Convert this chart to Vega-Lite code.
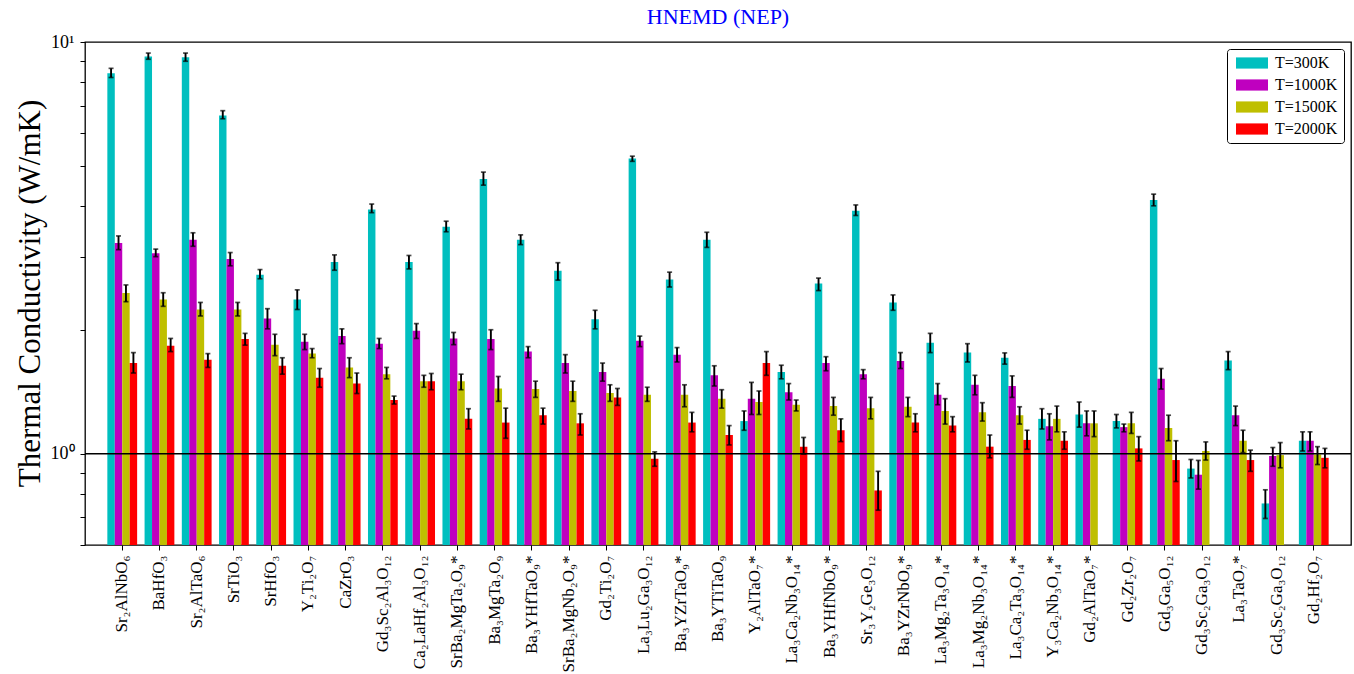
{
  "$schema": "https://vega.github.io/schema/vega-lite/v6.json",
  "width": 1266,
  "height": 503,
  "autosize": {"type": "none"},
  "padding": {"left": 85, "top": 42, "right": 3, "bottom": 129},
  "title": {"text": "HNEMD (NEP)", "color": "#0000FF", "font": "Liberation Serif", "fontSize": 22, "fontWeight": "normal", "anchor": "middle", "offset": 4},
  "config": {
    "view": {"stroke": "black", "strokeWidth": 1.3},
    "axis": {"labelColor": "black", "tickColor": "black", "titleColor": "black", "domain": false, "grid": false}
  },
  "data": {"values": [
    {"m":"Sr₂AlNbO₆","T":"T=300K","v":8.40,"lo":8.20,"hi":8.63},
    {"m":"Sr₂AlNbO₆","T":"T=1000K","v":3.25,"lo":3.13,"hi":3.38},
    {"m":"Sr₂AlNbO₆","T":"T=1500K","v":2.455,"lo":2.34,"hi":2.57},
    {"m":"Sr₂AlNbO₆","T":"T=2000K","v":1.66,"lo":1.57,"hi":1.76},
    {"m":"BaHfO₃","T":"T=300K","v":9.22,"lo":9.08,"hi":9.40},
    {"m":"BaHfO₃","T":"T=1000K","v":3.07,"lo":3.01,"hi":3.14},
    {"m":"BaHfO₃","T":"T=1500K","v":2.37,"lo":2.28,"hi":2.46},
    {"m":"BaHfO₃","T":"T=2000K","v":1.83,"lo":1.77,"hi":1.905},
    {"m":"Sr₂AlTaO₆","T":"T=300K","v":9.18,"lo":8.98,"hi":9.40},
    {"m":"Sr₂AlTaO₆","T":"T=1000K","v":3.31,"lo":3.19,"hi":3.44},
    {"m":"Sr₂AlTaO₆","T":"T=1500K","v":2.24,"lo":2.16,"hi":2.33},
    {"m":"Sr₂AlTaO₆","T":"T=2000K","v":1.69,"lo":1.62,"hi":1.75},
    {"m":"SrTiO₃","T":"T=300K","v":6.63,"lo":6.51,"hi":6.81},
    {"m":"SrTiO₃","T":"T=1000K","v":2.97,"lo":2.86,"hi":3.08},
    {"m":"SrTiO₃","T":"T=1500K","v":2.24,"lo":2.16,"hi":2.33},
    {"m":"SrTiO₃","T":"T=2000K","v":1.90,"lo":1.835,"hi":1.96},
    {"m":"SrHfO₃","T":"T=300K","v":2.72,"lo":2.66,"hi":2.80},
    {"m":"SrHfO₃","T":"T=1000K","v":2.13,"lo":2.01,"hi":2.25},
    {"m":"SrHfO₃","T":"T=1500K","v":1.84,"lo":1.73,"hi":1.95},
    {"m":"SrHfO₃","T":"T=2000K","v":1.635,"lo":1.56,"hi":1.71},
    {"m":"Y₂Ti₂O₇","T":"T=300K","v":2.37,"lo":2.24,"hi":2.50},
    {"m":"Y₂Ti₂O₇","T":"T=1000K","v":1.87,"lo":1.79,"hi":1.95},
    {"m":"Y₂Ti₂O₇","T":"T=1500K","v":1.75,"lo":1.71,"hi":1.80},
    {"m":"Y₂Ti₂O₇","T":"T=2000K","v":1.53,"lo":1.45,"hi":1.61},
    {"m":"CaZrO₃","T":"T=300K","v":2.92,"lo":2.79,"hi":3.04},
    {"m":"CaZrO₃","T":"T=1000K","v":1.93,"lo":1.85,"hi":2.01},
    {"m":"CaZrO₃","T":"T=1500K","v":1.62,"lo":1.53,"hi":1.71},
    {"m":"CaZrO₃","T":"T=2000K","v":1.48,"lo":1.40,"hi":1.57},
    {"m":"Gd₃Sc₂Al₃O₁₂","T":"T=300K","v":3.92,"lo":3.85,"hi":4.04},
    {"m":"Gd₃Sc₂Al₃O₁₂","T":"T=1000K","v":1.85,"lo":1.80,"hi":1.905},
    {"m":"Gd₃Sc₂Al₃O₁₂","T":"T=1500K","v":1.56,"lo":1.52,"hi":1.62},
    {"m":"Gd₃Sc₂Al₃O₁₂","T":"T=2000K","v":1.35,"lo":1.32,"hi":1.38},
    {"m":"Ca₂LaHf₂Al₃O₁₂","T":"T=300K","v":2.92,"lo":2.81,"hi":3.03},
    {"m":"Ca₂LaHf₂Al₃O₁₂","T":"T=1000K","v":1.99,"lo":1.905,"hi":2.07},
    {"m":"Ca₂LaHf₂Al₃O₁₂","T":"T=1500K","v":1.50,"lo":1.45,"hi":1.55},
    {"m":"Ca₂LaHf₂Al₃O₁₂","T":"T=2000K","v":1.50,"lo":1.43,"hi":1.566},
    {"m":"SrBa₂MgTa₂O₉*","T":"T=300K","v":3.56,"lo":3.46,"hi":3.67},
    {"m":"SrBa₂MgTa₂O₉*","T":"T=1000K","v":1.905,"lo":1.84,"hi":1.97},
    {"m":"SrBa₂MgTa₂O₉*","T":"T=1500K","v":1.50,"lo":1.43,"hi":1.56},
    {"m":"SrBa₂MgTa₂O₉*","T":"T=2000K","v":1.215,"lo":1.148,"hi":1.286},
    {"m":"Ba₃MgTa₂O₉","T":"T=300K","v":4.65,"lo":4.49,"hi":4.83},
    {"m":"Ba₃MgTa₂O₉","T":"T=1000K","v":1.90,"lo":1.79,"hi":2.00},
    {"m":"Ba₃MgTa₂O₉","T":"T=1500K","v":1.44,"lo":1.34,"hi":1.54},
    {"m":"Ba₃MgTa₂O₉","T":"T=2000K","v":1.19,"lo":1.09,"hi":1.29},
    {"m":"Ba₃YHfTaO₉*","T":"T=300K","v":3.31,"lo":3.22,"hi":3.40},
    {"m":"Ba₃YHfTaO₉*","T":"T=1000K","v":1.77,"lo":1.71,"hi":1.82},
    {"m":"Ba₃YHfTaO₉*","T":"T=1500K","v":1.435,"lo":1.37,"hi":1.50},
    {"m":"Ba₃YHfTaO₉*","T":"T=2000K","v":1.24,"lo":1.18,"hi":1.29},
    {"m":"SrBa₂MgNb₂O₉*","T":"T=300K","v":2.78,"lo":2.64,"hi":2.91},
    {"m":"SrBa₂MgNb₂O₉*","T":"T=1000K","v":1.66,"lo":1.57,"hi":1.74},
    {"m":"SrBa₂MgNb₂O₉*","T":"T=1500K","v":1.42,"lo":1.34,"hi":1.50},
    {"m":"SrBa₂MgNb₂O₉*","T":"T=2000K","v":1.185,"lo":1.11,"hi":1.25},
    {"m":"Gd₂Ti₂O₇","T":"T=300K","v":2.12,"lo":2.01,"hi":2.23},
    {"m":"Gd₂Ti₂O₇","T":"T=1000K","v":1.58,"lo":1.50,"hi":1.66},
    {"m":"Gd₂Ti₂O₇","T":"T=1500K","v":1.405,"lo":1.34,"hi":1.47},
    {"m":"Gd₂Ti₂O₇","T":"T=2000K","v":1.37,"lo":1.31,"hi":1.44},
    {"m":"La₃Lu₂Ga₃O₁₂","T":"T=300K","v":5.21,"lo":5.13,"hi":5.28},
    {"m":"La₃Lu₂Ga₃O₁₂","T":"T=1000K","v":1.88,"lo":1.82,"hi":1.93},
    {"m":"La₃Lu₂Ga₃O₁₂","T":"T=1500K","v":1.39,"lo":1.34,"hi":1.45},
    {"m":"La₃Lu₂Ga₃O₁₂","T":"T=2000K","v":0.972,"lo":0.932,"hi":1.01},
    {"m":"Ba₃YZrTaO₉*","T":"T=300K","v":2.65,"lo":2.54,"hi":2.76},
    {"m":"Ba₃YZrTaO₉*","T":"T=1000K","v":1.74,"lo":1.67,"hi":1.81},
    {"m":"Ba₃YZrTaO₉*","T":"T=1500K","v":1.39,"lo":1.30,"hi":1.47},
    {"m":"Ba₃YZrTaO₉*","T":"T=2000K","v":1.19,"lo":1.13,"hi":1.26},
    {"m":"Ba₃YTiTaO₉","T":"T=300K","v":3.31,"lo":3.17,"hi":3.45},
    {"m":"Ba₃YTiTaO₉","T":"T=1000K","v":1.55,"lo":1.46,"hi":1.635},
    {"m":"Ba₃YTiTaO₉","T":"T=1500K","v":1.36,"lo":1.29,"hi":1.43},
    {"m":"Ba₃YTiTaO₉","T":"T=2000K","v":1.11,"lo":1.05,"hi":1.17},
    {"m":"Y₂AlTaO₇*","T":"T=300K","v":1.20,"lo":1.14,"hi":1.27},
    {"m":"Y₂AlTaO₇*","T":"T=1000K","v":1.36,"lo":1.245,"hi":1.49},
    {"m":"Y₂AlTaO₇*","T":"T=1500K","v":1.335,"lo":1.245,"hi":1.42},
    {"m":"Y₂AlTaO₇*","T":"T=2000K","v":1.66,"lo":1.55,"hi":1.77},
    {"m":"La₃Ca₂Nb₃O₁₄*","T":"T=300K","v":1.58,"lo":1.52,"hi":1.64},
    {"m":"La₃Ca₂Nb₃O₁₄*","T":"T=1000K","v":1.41,"lo":1.35,"hi":1.48},
    {"m":"La₃Ca₂Nb₃O₁₄*","T":"T=1500K","v":1.315,"lo":1.27,"hi":1.35},
    {"m":"La₃Ca₂Nb₃O₁₄*","T":"T=2000K","v":1.04,"lo":0.998,"hi":1.095},
    {"m":"Ba₃YHfNbO₉*","T":"T=300K","v":2.59,"lo":2.49,"hi":2.67},
    {"m":"Ba₃YHfNbO₉*","T":"T=1000K","v":1.66,"lo":1.59,"hi":1.72},
    {"m":"Ba₃YHfNbO₉*","T":"T=1500K","v":1.305,"lo":1.24,"hi":1.37},
    {"m":"Ba₃YHfNbO₉*","T":"T=2000K","v":1.14,"lo":1.07,"hi":1.215},
    {"m":"Sr₃Y₂Ge₃O₁₂","T":"T=300K","v":3.89,"lo":3.79,"hi":4.02},
    {"m":"Sr₃Y₂Ge₃O₁₂","T":"T=1000K","v":1.56,"lo":1.52,"hi":1.60},
    {"m":"Sr₃Y₂Ge₃O₁₂","T":"T=1500K","v":1.29,"lo":1.215,"hi":1.37},
    {"m":"Sr₃Y₂Ge₃O₁₂","T":"T=2000K","v":0.814,"lo":0.729,"hi":0.906},
    {"m":"Ba₃YZrNbO₉*","T":"T=300K","v":2.33,"lo":2.23,"hi":2.43},
    {"m":"Ba₃YZrNbO₉*","T":"T=1000K","v":1.68,"lo":1.61,"hi":1.76},
    {"m":"Ba₃YZrNbO₉*","T":"T=1500K","v":1.30,"lo":1.23,"hi":1.37},
    {"m":"Ba₃YZrNbO₉*","T":"T=2000K","v":1.19,"lo":1.13,"hi":1.25},
    {"m":"La₃Mg₂Ta₃O₁₄*","T":"T=300K","v":1.86,"lo":1.76,"hi":1.96},
    {"m":"La₃Mg₂Ta₃O₁₄*","T":"T=1000K","v":1.39,"lo":1.315,"hi":1.48},
    {"m":"La₃Mg₂Ta₃O₁₄*","T":"T=1500K","v":1.27,"lo":1.18,"hi":1.36},
    {"m":"La₃Mg₂Ta₃O₁₄*","T":"T=2000K","v":1.17,"lo":1.13,"hi":1.23},
    {"m":"La₃Mg₂Nb₃O₁₄*","T":"T=300K","v":1.76,"lo":1.67,"hi":1.85},
    {"m":"La₃Mg₂Nb₃O₁₄*","T":"T=1000K","v":1.47,"lo":1.39,"hi":1.55},
    {"m":"La₃Mg₂Nb₃O₁₄*","T":"T=1500K","v":1.26,"lo":1.20,"hi":1.33},
    {"m":"La₃Mg₂Nb₃O₁₄*","T":"T=2000K","v":1.04,"lo":0.977,"hi":1.11},
    {"m":"La₃Ca₂Ta₃O₁₄*","T":"T=300K","v":1.71,"lo":1.65,"hi":1.757},
    {"m":"La₃Ca₂Ta₃O₁₄*","T":"T=1000K","v":1.46,"lo":1.37,"hi":1.545},
    {"m":"La₃Ca₂Ta₃O₁₄*","T":"T=1500K","v":1.24,"lo":1.18,"hi":1.30},
    {"m":"La₃Ca₂Ta₃O₁₄*","T":"T=2000K","v":1.08,"lo":1.025,"hi":1.14},
    {"m":"Y₃Ca₂Nb₃O₁₄*","T":"T=300K","v":1.215,"lo":1.148,"hi":1.286},
    {"m":"Y₃Ca₂Nb₃O₁₄*","T":"T=1000K","v":1.165,"lo":1.08,"hi":1.25},
    {"m":"Y₃Ca₂Nb₃O₁₄*","T":"T=1500K","v":1.215,"lo":1.13,"hi":1.305},
    {"m":"Y₃Ca₂Nb₃O₁₄*","T":"T=2000K","v":1.075,"lo":1.025,"hi":1.13},
    {"m":"Gd₂AlTaO₇*","T":"T=300K","v":1.245,"lo":1.16,"hi":1.335},
    {"m":"Gd₂AlTaO₇*","T":"T=1000K","v":1.185,"lo":1.105,"hi":1.27},
    {"m":"Gd₂AlTaO₇*","T":"T=1500K","v":1.185,"lo":1.10,"hi":1.27},
    {"m":"Gd₂Zr₂O₇","T":"T=300K","v":1.20,"lo":1.155,"hi":1.245},
    {"m":"Gd₂Zr₂O₇","T":"T=1000K","v":1.16,"lo":1.13,"hi":1.18},
    {"m":"Gd₂Zr₂O₇","T":"T=1500K","v":1.185,"lo":1.12,"hi":1.26},
    {"m":"Gd₂Zr₂O₇","T":"T=2000K","v":1.03,"lo":0.96,"hi":1.10},
    {"m":"Gd₃Ga₅O₁₂","T":"T=300K","v":4.13,"lo":4.00,"hi":4.27},
    {"m":"Gd₃Ga₅O₁₂","T":"T=1000K","v":1.52,"lo":1.435,"hi":1.61},
    {"m":"Gd₃Ga₅O₁₂","T":"T=1500K","v":1.155,"lo":1.075,"hi":1.24},
    {"m":"Gd₃Ga₅O₁₂","T":"T=2000K","v":0.965,"lo":0.856,"hi":1.075},
    {"m":"Gd₃Sc₂Ga₃O₁₂","T":"T=300K","v":0.92,"lo":0.873,"hi":0.968},
    {"m":"Gd₃Sc₂Ga₃O₁₂","T":"T=1000K","v":0.889,"lo":0.82,"hi":0.963},
    {"m":"Gd₃Sc₂Ga₃O₁₂","T":"T=1500K","v":1.015,"lo":0.965,"hi":1.068},
    {"m":"La₃TaO₇*","T":"T=300K","v":1.685,"lo":1.60,"hi":1.77},
    {"m":"La₃TaO₇*","T":"T=1000K","v":1.24,"lo":1.17,"hi":1.305},
    {"m":"La₃TaO₇*","T":"T=1500K","v":1.075,"lo":1.006,"hi":1.14},
    {"m":"La₃TaO₇*","T":"T=2000K","v":0.965,"lo":0.906,"hi":1.02},
    {"m":"Gd₃Sc₂Ga₃O₁₂\u200b","T":"T=300K","v":0.757,"lo":0.696,"hi":0.817},
    {"m":"Gd₃Sc₂Ga₃O₁₂\u200b","T":"T=1000K","v":0.987,"lo":0.932,"hi":1.035},
    {"m":"Gd₃Sc₂Ga₃O₁₂\u200b","T":"T=1500K","v":0.992,"lo":0.924,"hi":1.064},
    {"m":"Gd₂Hf₂O₇","T":"T=300K","v":1.075,"lo":1.015,"hi":1.13},
    {"m":"Gd₂Hf₂O₇","T":"T=1000K","v":1.075,"lo":1.015,"hi":1.13},
    {"m":"Gd₂Hf₂O₇","T":"T=1500K","v":0.996,"lo":0.941,"hi":1.04},
    {"m":"Gd₂Hf₂O₇","T":"T=2000K","v":0.977,"lo":0.924,"hi":1.03}
  ]},
  "layer": [
    {
      "mark": {"type": "bar"},
      "encoding": {
        "x": {"field": "m", "type": "nominal", "sort": null, "title": null,
              "scale": {"paddingInner": 0.2, "paddingOuter": 0.6},
              "axis": {"labelAngle": -90, "labelFont": "Liberation Serif", "labelFontSize": 17, "tickSize": 5, "labelPadding": 5, "labelOverlap": false}},
        "xOffset": {"field": "T", "type": "nominal", "sort": ["T=300K", "T=1000K", "T=1500K", "T=2000K"], "scale": {"paddingInner": 0, "paddingOuter": 0}},
        "y": {"field": "v", "type": "quantitative",
              "scale": {"type": "log", "domain": [0.6, 10], "nice": false},
              "axis": {"values": [0.6, 0.7, 0.8, 0.9, 1, 2, 3, 4, 5, 6, 7, 8, 9, 10],
                       "labelExpr": "datum.value == 1 ? '10⁰' : (datum.value == 10 ? '10¹' : '')",
                       "labelFont": "Liberation Serif", "labelFontSize": 18, "labelOverlap": false, "labelFlush": false,
                       "tickSize": 5, "labelPadding": 6,
                       "title": "Thermal Conductivity (W/mK)", "titleFont": "Liberation Serif", "titleFontSize": 31, "titleFontWeight": "normal",
                       "titleX": -55, "titleY": 251, "titleBaseline": "middle", "titleAlign": "center", "titleAngle": -90}},
        "y2": {"datum": 0.6},
        "color": {"field": "T", "type": "nominal",
                  "scale": {"domain": ["T=300K", "T=1000K", "T=1500K", "T=2000K"], "range": ["#00BFBF", "#BF00BF", "#BFBF00", "#FF0000"]},
                  "legend": {"title": null, "orient": "top-right", "offset": 7, "strokeColor": "black", "cornerRadius": 3, "padding": 6, "fillColor": "white",
                             "labelFont": "Liberation Serif", "labelFontSize": 16, "labelColor": "black",
                             "symbolType": "M-2,-0.7H2V0.7H-2Z", "symbolSize": 256, "symbolOffset": 11, "labelOffset": 15, "rowPadding": 6, "symbolStrokeWidth": 0, "symbolOpacity": 1}}
      }
    },
    {
      "mark": {"type": "rule", "color": "black", "strokeWidth": 1.9},
      "encoding": {
        "x": {"field": "m", "type": "nominal", "sort": null},
        "xOffset": {"field": "T", "type": "nominal", "sort": ["T=300K", "T=1000K", "T=1500K", "T=2000K"]},
        "y": {"field": "lo", "type": "quantitative"},
        "y2": {"field": "hi"}
      }
    },
    {
      "mark": {"type": "tick", "color": "black", "size": 5, "thickness": 1.7, "orient": "horizontal"},
      "encoding": {
        "x": {"field": "m", "type": "nominal", "sort": null},
        "xOffset": {"field": "T", "type": "nominal", "sort": ["T=300K", "T=1000K", "T=1500K", "T=2000K"]},
        "y": {"field": "lo", "type": "quantitative"}
      }
    },
    {
      "mark": {"type": "tick", "color": "black", "size": 5, "thickness": 1.7, "orient": "horizontal"},
      "encoding": {
        "x": {"field": "m", "type": "nominal", "sort": null},
        "xOffset": {"field": "T", "type": "nominal", "sort": ["T=300K", "T=1000K", "T=1500K", "T=2000K"]},
        "y": {"field": "hi", "type": "quantitative"}
      }
    },
    {
      "data": {"values": [{"ref": 1}]},
      "mark": {"type": "rule", "color": "black", "strokeWidth": 1.5},
      "encoding": {"y": {"field": "ref", "type": "quantitative"}}
    }
  ]
}
